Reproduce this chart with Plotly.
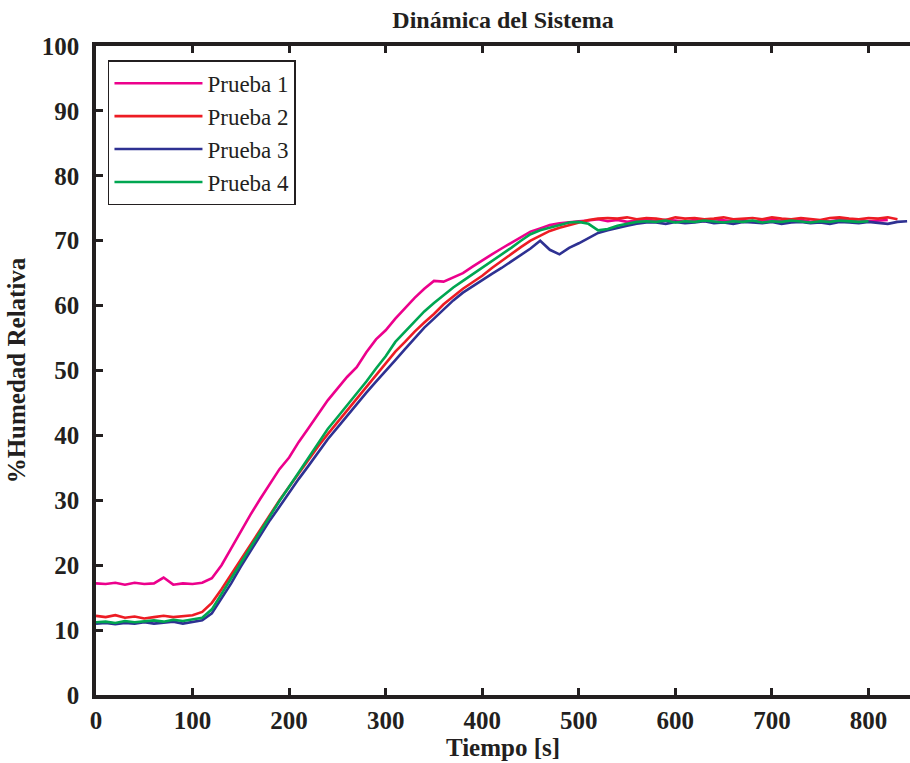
import plotly.graph_objects as go

TIME = list(range(0, 850, 10))

prueba1 = [17.2, 17.1, 17.3, 17.0, 17.3, 17.1, 17.2, 18.1, 17.0, 17.2,
           17.1, 17.3, 18.0, 20.0, 22.6, 25.3, 27.8, 30.2, 32.6, 34.8,
           36.6, 39.0, 41.1, 43.3, 45.4, 47.2, 49.0, 50.5, 52.8, 54.8,
           56.2, 58.0, 59.6, 61.2, 62.6, 63.8, 63.7, 64.4, 65.0, 66.0,
           67.0, 67.9, 68.8, 69.7, 70.6, 71.4, 71.9, 72.4, 72.7, 72.9,
           73.0, 73.1, 73.3, 73.0, 73.2, 72.9, 73.1, 73.3, 73.0, 73.2,
           73.1, 72.9, 73.2, 73.0, 73.3, 73.1, 73.0, 73.2, 72.9, 73.1,
           73.3, 73.0, 73.1, 73.2, 72.9, 73.1, 73.0, 73.2, 73.1, 73.3,
           73.0, 73.1, 73.2]

prueba2 = [12.2, 12.0, 12.3, 11.9, 12.1, 11.8, 12.0, 12.2, 12.0, 12.2,
           12.3, 12.8, 14.2, 16.3, 18.6, 21.0, 23.3, 25.6, 27.9, 30.0,
           32.1, 34.2, 36.2, 38.3, 40.2, 42.0, 43.9, 45.7, 47.5, 49.3,
           51.0, 52.9, 54.4, 56.0, 57.4, 58.7, 60.2, 61.4, 62.6, 63.6,
           64.6, 65.8, 66.9, 68.0, 69.0, 70.0, 70.8, 71.5, 72.0, 72.4,
           72.8, 73.2, 73.4, 73.5, 73.4, 73.6, 73.3, 73.5, 73.4, 73.2,
           73.6, 73.4, 73.5, 73.3, 73.4, 73.6, 73.3, 73.4, 73.5, 73.3,
           73.6, 73.4, 73.3, 73.5, 73.4, 73.2, 73.5, 73.6, 73.4, 73.3,
           73.5, 73.4, 73.6, 73.3]

prueba3 = [11.0, 11.1, 10.9, 11.1, 11.0, 11.2, 11.0, 11.1, 11.3, 11.0,
           11.2, 11.5, 12.6, 14.8, 17.2, 19.8, 22.2, 24.6, 26.9, 29.0,
           31.2, 33.3, 35.3, 37.3, 39.4, 41.2, 43.0, 44.9, 46.6, 48.3,
           49.9, 51.6, 53.3, 55.0, 56.6, 58.0, 59.4, 60.8, 62.0, 63.0,
           64.0, 64.9, 65.8, 66.8, 67.8, 68.8, 70.0, 68.6, 67.9, 68.9,
           69.6, 70.4, 71.2, 71.6, 72.0, 72.3, 72.6, 72.8, 72.8, 72.6,
           72.9, 72.7, 72.8, 73.0, 72.7, 72.8, 72.6, 72.9, 72.8, 72.7,
           72.9, 72.6, 72.8, 72.9, 72.7, 72.8, 72.6, 72.9, 72.8, 72.7,
           72.9, 72.8, 72.6, 72.9, 73.0]

prueba4 = [11.2, 11.3, 11.1, 11.4, 11.2, 11.3, 11.5, 11.3, 11.6, 11.4,
           11.6, 11.9, 13.2, 15.6, 18.0, 20.3, 22.7, 25.2, 27.6, 29.9,
           32.1, 34.3, 36.6, 38.9, 41.0, 42.8, 44.6, 46.5, 48.3, 50.3,
           52.2, 54.4, 56.0, 57.6, 59.1, 60.4, 61.6, 62.8, 63.8, 64.8,
           65.8, 66.8, 67.8, 68.9, 70.0, 71.0, 71.6, 72.0, 72.4, 72.8,
           72.9, 72.6, 71.6, 71.8, 72.3, 72.6, 72.9, 73.0, 72.9, 73.1,
           72.8, 73.0, 72.9, 73.1, 73.0, 72.8, 73.0, 72.9, 73.1, 72.8,
           73.0, 72.9, 73.1, 73.0, 72.8, 73.0, 72.9, 73.1, 73.0, 72.9,
           73.0]

SERIES = [("Prueba 1", prueba1, "#EC008C"),
          ("Prueba 2", prueba2, "#ED1C24"),
          ("Prueba 3", prueba3, "#2E3192"),
          ("Prueba 4", prueba4, "#00A651")]

X_TICKS = [0, 100, 200, 300, 400, 500, 600, 700, 800]
Y_TICKS = [0, 10, 20, 30, 40, 50, 60, 70, 80, 90, 100]

FONT = "Liberation Serif, Times New Roman, serif"
INK = "#231F20"

fig = go.Figure()
for name, vals, color in SERIES:
    fig.add_trace(go.Scatter(
        x=TIME[:len(vals)], y=vals, mode="lines", name=name,
        line=dict(color=color, width=2.6)))

fig.update_layout(
    width=910, height=763,
    paper_bgcolor="white", plot_bgcolor="white",
    margin=dict(l=96, r=0, t=46, b=68, autoexpand=False),
    title=dict(text="Dinámica del Sistema", x=0.5, xref="paper",
               y=0.974, yref="container", xanchor="center", yanchor="middle",
               font=dict(family=FONT, size=24, color=INK, weight="bold")),
    showlegend=True,
    legend=dict(x=0.0147, y=0.978, xanchor="left", yanchor="top",
                bgcolor="white", bordercolor=INK, borderwidth=1.5,
                font=dict(family=FONT, size=23, color=INK),
                tracegroupgap=0, itemwidth=88),
)

fig.update_xaxes(
    range=[0, 843], tickvals=X_TICKS, ticks="inside", ticklen=7, tickwidth=3,
    tickcolor=INK, showline=True, linecolor=INK, linewidth=3.5,
    mirror="ticks", showgrid=False, zeroline=False, automargin=False,
    tickfont=dict(family=FONT, size=25, color=INK, weight="bold"),
    title=dict(text="Tiempo [s]", standoff=6,
               font=dict(family=FONT, size=25, color=INK, weight="bold")))

fig.update_yaxes(
    range=[0, 100], tickvals=Y_TICKS, ticks="inside", ticklen=7, tickwidth=3,
    tickcolor=INK, showline=True, linecolor=INK, linewidth=3.5,
    mirror=False, showgrid=False, zeroline=False, ticklabelstandoff=8,
    automargin=False,
    tickfont=dict(family=FONT, size=25, color=INK, weight="bold"),
    title=dict(text="%Humedad Relativa", standoff=10,
               font=dict(family=FONT, size=25, color=INK, weight="bold")))

# remove the default 8px page margin so the figure fills the window exactly
fig.write_html("out.html",
               config={"displayModeBar": False},
               post_script="document.body.style.margin='0';"
                           "document.body.style.overflow='hidden';")
